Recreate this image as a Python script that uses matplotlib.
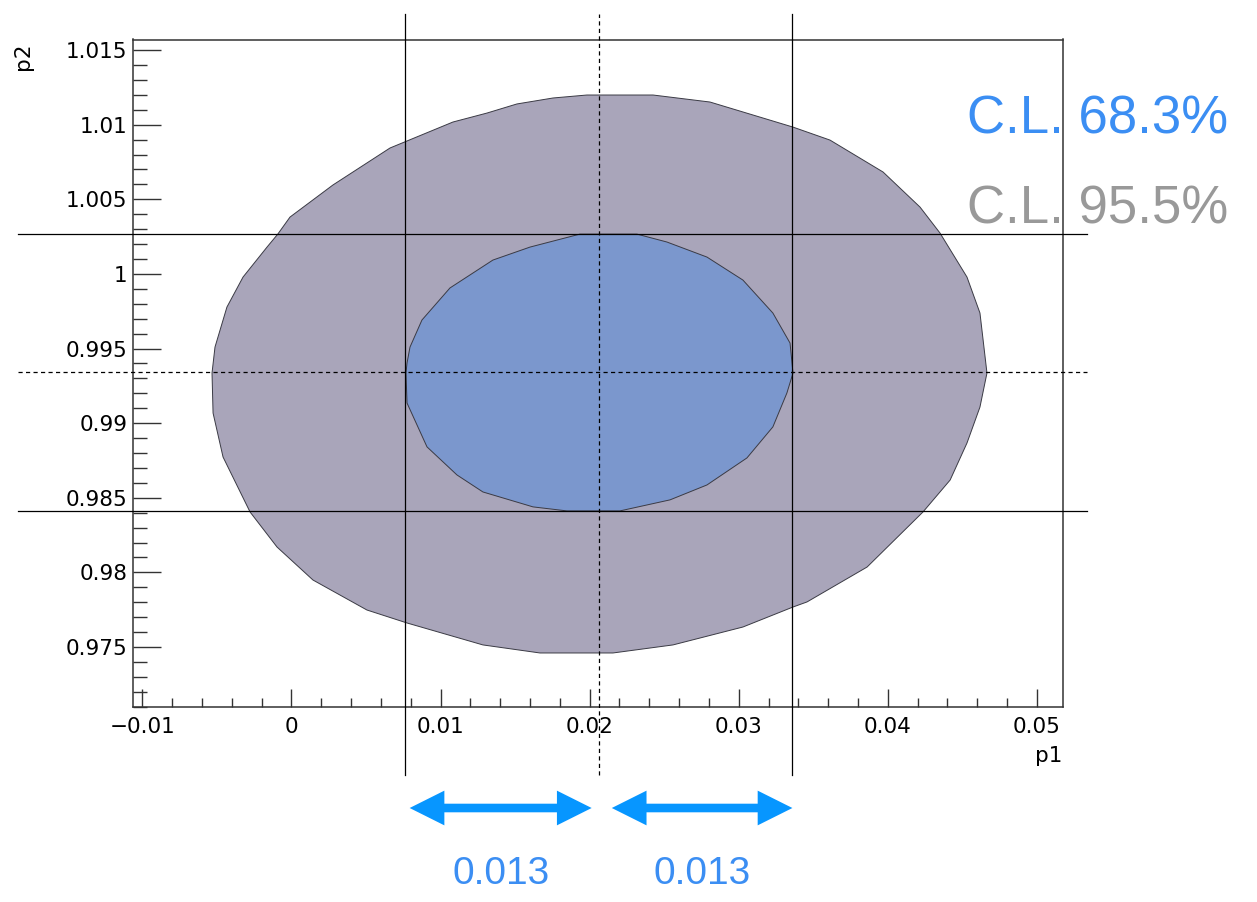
import matplotlib
matplotlib.use("Agg")
import matplotlib.pyplot as plt
import matplotlib.transforms as mtransforms
from matplotlib.lines import Line2D
from matplotlib.patches import Polygon, FancyArrowPatch
from matplotlib.ticker import MultipleLocator, FixedLocator, FixedFormatter
import numpy as np

plt.rcParams["font.family"] = ["DejaVu Sans"]
plt.rcParams["lines.scale_dashes"] = False

# best fit and 1-sigma errors
p1_best, p1_err = 0.0206, 0.013
p2_best, p2_err = 0.99340, 0.00927

# 95.5% C.L. contour (p1, p2)
cont95_p1 = [0.01982, 0.02203, 0.02425, 0.02807, 0.03142, 0.03364, 0.03612,
             0.03968, 0.04216, 0.04350, 0.04531, 0.04618, 0.04665, 0.04618,
             0.04531, 0.04418, 0.04236, 0.03861, 0.03458, 0.03364, 0.03028,
             0.02559, 0.02156, 0.01667, 0.01284, 0.00775, 0.00506, 0.00144,
             -0.00097, -0.00278, -0.00459, -0.00526, -0.00533, -0.00513,
             -0.00433, -0.00325, -0.00164, -0.00091, -0.00010, 0.00278,
             0.00661, 0.00775, 0.01083, 0.01311, 0.01512, 0.01754]
cont95_p2 = [1.01199, 1.01199, 1.01199, 1.01152, 1.01051, 1.00984, 1.00897,
             1.00683, 1.00448, 1.00274, 0.99979, 0.99738, 0.99336, 0.99108,
             0.98867, 0.98619, 0.98405, 0.98036, 0.97802, 0.97768, 0.97634,
             0.97514, 0.97460, 0.97460, 0.97514, 0.97661, 0.97748, 0.97949,
             0.98170, 0.98405, 0.98773, 0.99068, 0.99336, 0.99510,
             0.99778, 0.99979, 1.00180, 1.00268, 1.00381, 1.00596,
             1.00844, 1.00891, 1.01018, 1.01078, 1.01139, 1.01179]

# 68.3% C.L. contour (p1, p2)
cont68_p1 = [0.01935, 0.02203, 0.02317, 0.02518, 0.02787, 0.03028, 0.03229,
             0.03344, 0.03364, 0.03323, 0.03229, 0.03055, 0.02787, 0.02539,
             0.02203, 0.01848, 0.01620, 0.01284, 0.01110, 0.00909, 0.00775,
             0.00768, 0.00775, 0.00795, 0.00875, 0.01063, 0.01351, 0.01600]
cont68_p2 = [1.00267, 1.00267, 1.00267, 1.00214, 1.00113, 0.99959, 0.99738,
             0.99537, 0.99336, 0.99202, 0.98975, 0.98767, 0.98586, 0.98486,
             0.98412, 0.98412, 0.98439, 0.98539, 0.98653, 0.98841, 0.99135,
             0.99336, 0.99403, 0.99510, 0.99691, 0.99906, 1.00093, 1.00180]

x_ticks = [-0.01, 0.0, 0.01, 0.02, 0.03, 0.04, 0.05]
x_ticklabels = ["\u22120.01", "0", "0.01", "0.02", "0.03", "0.04", "0.05"]
y_ticks = [0.975, 0.98, 0.985, 0.99, 0.995, 1.0, 1.005, 1.01, 1.015]
y_ticklabels = ["0.975", "0.98", "0.985", "0.99", "0.995", "1", "1.005", "1.01", "1.015"]

cl_labels = ["C.L. 68.3%", "C.L. 95.5%"]
cl_colors = ["#3b8ef3", "#999999"]
err_label = "%.3f" % p1_err

W, H = 1257, 902
fig = plt.figure(figsize=(W / 100, H / 100), dpi=100)
ax = fig.add_axes([133 / W, 1 - 707 / H, 930 / W, 667.5 / H])
ax.set_autoscale_on(False)
ax.set_xlim(-0.01063, 0.05175)
ax.set_ylim(0.97098, 1.01571)

ax.add_patch(Polygon(np.column_stack([cont95_p1, cont95_p2]), closed=True,
                     facecolor="#a9a5ba", edgecolor="#3a3a44", lw=0.7, zorder=1))
ax.add_patch(Polygon(np.column_stack([cont68_p1, cont68_p2]), closed=True,
                     facecolor="#7b97cd", edgecolor="#3a3a44", lw=0.7, zorder=2))

# error lines running past the frame
vtrans = mtransforms.blended_transform_factory(ax.transData, fig.transFigure)
htrans = mtransforms.blended_transform_factory(fig.transFigure, ax.transData)
y_span = [1 - 775 / H, 1 - 14 / H]
x_span = [18 / W, 1087 / W]
dash = (0, (3.0, 2.4))
for x, ls in [(p1_best - p1_err, "-"), (p1_best, dash), (p1_best + p1_err, "-")]:
    ax.add_line(Line2D([x, x], y_span, transform=vtrans, color="black",
                       lw=0.9, ls=ls, clip_on=False, zorder=3))
for y, ls in [(p2_best + p2_err, "-"), (p2_best, dash), (p2_best - p2_err, "-")]:
    ax.add_line(Line2D(x_span, [y, y], transform=htrans, color="black",
                       lw=0.9, ls=ls, clip_on=False, zorder=3))

ax.xaxis.set_major_locator(FixedLocator(x_ticks))
ax.xaxis.set_major_formatter(FixedFormatter(x_ticklabels))
ax.xaxis.set_minor_locator(MultipleLocator(0.002))
ax.yaxis.set_major_locator(FixedLocator(y_ticks))
ax.yaxis.set_major_formatter(FixedFormatter(y_ticklabels))
ax.yaxis.set_minor_locator(MultipleLocator(0.001))
ax.tick_params(which="both", direction="in", top=False, right=False,
               color="#333333", width=1.0, labelsize=15.5, labelcolor="black")
ax.tick_params(axis="x", which="major", length=13, pad=7)
ax.tick_params(axis="x", which="minor", length=6.5)
ax.tick_params(axis="y", which="major", length=20, pad=4)
ax.tick_params(axis="y", which="minor", length=10)
for s in ax.spines.values():
    s.set_linewidth(1.1)
    s.set_color("#333333")

fig.text(1062 / W, 1 - 762 / H, "p1", fontsize=15.5, ha="right", va="baseline")
fig.text(33 / W, 1 - 42 / H, "p2", fontsize=15.5, ha="right", va="top", rotation=90)

# confidence level legend
for i, (lab, col) in enumerate(zip(cl_labels, cl_colors)):
    fig.text(967 / W, 1 - (133 + 90 * i) / H, lab, color=col, fontsize=38,
             family="Liberation Sans", ha="left", va="baseline")

# double arrows showing the p1 error on either side of the best fit;
# each is two single-headed arrows whose shafts start inside the other's head
# (gap in points left at each end of the arrow)
arrow_y = 1 - 808 / H
head = 25
arrow_spans = [(p1_best - p1_err, p1_best, 3.5, 5.0), (p1_best, p1_best + p1_err, 9.5, 0.0)]
style = "simple,head_length=%d,head_width=25,tail_width=6" % head
for a, b, gap_a, gap_b in arrow_spans:
    ax.add_patch(FancyArrowPatch((a, arrow_y), (b, arrow_y), transform=vtrans,
                                 arrowstyle=style, mutation_scale=1,
                                 shrinkA=gap_a + head - 5, shrinkB=gap_b,
                                 color="#0796ff", lw=0, clip_on=False, zorder=4))
    ax.add_patch(FancyArrowPatch((b, arrow_y), (a, arrow_y), transform=vtrans,
                                 arrowstyle=style, mutation_scale=1,
                                 shrinkA=gap_b + head - 5, shrinkB=gap_a,
                                 color="#0796ff", lw=0, clip_on=False, zorder=4))
    shift = mtransforms.ScaledTranslation((gap_a - gap_b) / 2 / 72, 0, fig.dpi_scale_trans)
    ax.text(0.5 * (a + b), 1 - 884 / H, err_label, transform=vtrans + shift,
            color="#3b8ef3", fontsize=28, family="Liberation Sans",
            ha="center", va="baseline")

fig.savefig("out.png", dpi=100, facecolor="white")
